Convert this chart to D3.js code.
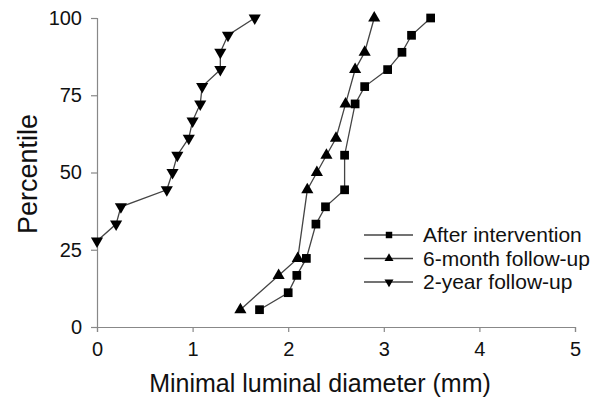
<!DOCTYPE html>
<html>
<head>
<meta charset="utf-8">
<script src="https://cdn.jsdelivr.net/npm/d3@7"></script>
<style>
	body { margin: 0; background: #fff; }
	text { font-family: "Liberation Sans", Arial, sans-serif; fill: #111; }
</style>
</head>
<body>
<script>
//series values (x = diameter in mm, y = percentile)
var afterX = [1.7, 2.0, 2.09, 2.19, 2.29, 2.39, 2.59, 2.59, 2.70, 2.80, 3.04, 3.19, 3.29, 3.49];
var afterY = [5.6, 11.1, 16.7, 22.2, 33.3, 38.9, 44.4, 55.6, 72.2, 77.8, 83.3, 88.9, 94.4, 100];
var sixX = [1.5, 1.9, 2.1, 2.2, 2.3, 2.4, 2.5, 2.6, 2.7, 2.8, 2.9];
var sixY = [5.6, 16.7, 22.2, 44.4, 50, 55.6, 61.1, 72.2, 83.3, 88.9, 100];
var twoX = [0, 0.2, 0.25, 0.73, 0.79, 0.84, 0.96, 1.0, 1.08, 1.1, 1.29, 1.29, 1.37, 1.65];
var twoY = [27.8, 33.3, 38.9, 44.4, 50, 55.6, 61.1, 66.7, 72.2, 77.8, 83.3, 88.9, 94.4, 100];
var seriesNames = ["After intervention", "6-month follow-up", "2-year follow-up"];
var xTicks = [0, 1, 2, 3, 4, 5];
var yTicks = [0, 25, 50, 75, 100];

window.onload = function(){
	var w = 601, h = 403;

	var svg = d3.select("body").append("svg")
		.attr("width", w)
		.attr("height", h);

	var x = d3.scaleLinear().domain([0, 5]).range([97, 575]);
	var y = d3.scaleLinear().domain([0, 100]).range([327, 18]);

	//axes
	svg.append("g")
		.attr("class", "axis")
		.attr("transform", "translate(0," + y(0) + ")")
		.call(d3.axisBottom(x).tickValues(xTicks).tickSize(5).tickPadding(10).tickFormat(d3.format("d")));
	svg.append("g")
		.attr("class", "axis")
		.attr("transform", "translate(" + x(0) + ",0)")
		.call(d3.axisLeft(y).tickValues(yTicks).tickSize(6).tickPadding(9).tickFormat(d3.format("d")));
	svg.selectAll(".axis path, .axis line")
		.attr("stroke", "#888")
		.attr("stroke-width", 1.2);
	svg.selectAll(".axis text")
		.style("font-size", "20px")
		.attr("fill", "#111");

	//axis titles
	svg.append("text")
		.attr("x", 320)
		.attr("y", 392)
		.attr("text-anchor", "middle")
		.style("font-size", "25px")
		.text("Minimal luminal diameter (mm)");
	svg.append("text")
		.attr("transform", "translate(37,174) rotate(-90)")
		.attr("text-anchor", "middle")
		.style("font-size", "27px")
		.text("Percentile");

	var series = [
		{xs: afterX, ys: afterY, sym: d3.symbolSquare, size: 76, rot: 0},
		{xs: sixX, ys: sixY, sym: d3.symbolTriangle, size: 64, rot: 0},
		{xs: twoX, ys: twoY, sym: d3.symbolTriangle, size: 64, rot: 180}
	];

	var line = d3.line()
		.x(function(d){ return x(d[0]); })
		.y(function(d){ return y(d[1]); });

	series.forEach(function(s){
		var pts = d3.zip(s.xs, s.ys);
		svg.append("path")
			.datum(pts)
			.attr("d", line)
			.attr("fill", "none")
			.attr("stroke", "#444")
			.attr("stroke-width", 1.3);
		svg.selectAll(null)
			.data(pts)
			.enter()
			.append("path")
			.attr("d", d3.symbol().type(s.sym).size(s.size))
			.attr("transform", function(d){
				return "translate(" + x(d[0]) + "," + y(d[1]) + ") rotate(" + s.rot + ")";
			})
			.attr("fill", "#000");
	});

	//legend
	var legend = svg.append("g").attr("transform", "translate(364,235)");
	series.forEach(function(s, i){
		var row = legend.append("g").attr("transform", "translate(0," + i * 23.5 + ")");
		row.append("line")
			.attr("x1", 0).attr("x2", 49)
			.attr("stroke", "#444").attr("stroke-width", 1.3);
		row.append("path")
			.attr("d", d3.symbol().type(s.sym).size(s.size * 0.55))
			.attr("transform", "translate(25,0) rotate(" + s.rot + ")")
			.attr("fill", "#000");
		row.append("text")
			.attr("x", 59)
			.attr("y", 7)
			.style("font-size", "21px")
			.text(seriesNames[i]);
	});
};
</script>
</body>
</html>
